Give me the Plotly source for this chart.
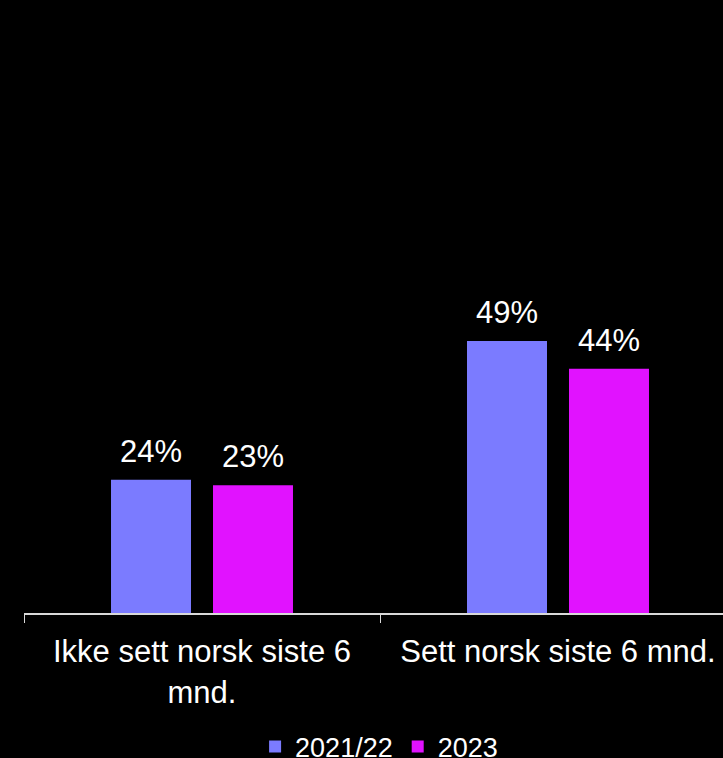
import plotly.graph_objects as go

categories = ["Ikke sett norsk siste 6<br>mnd.", "Sett norsk siste 6 mnd."]
series_names = ["2021/22", "2023"]
values_2021 = [0.24, 0.49]
values_2023 = [0.23, 0.44]
colors = ["#7B7BFF", "#E112FF"]

fig = go.Figure()
for name, vals, col in zip(series_names, [values_2021, values_2023], colors):
    fig.add_trace(go.Bar(
        x=categories, y=vals, name=name,
        marker=dict(color=col, line=dict(width=0)),
    ))

# value labels above each bar, shifted sideways to sit over its bar in the group
for shift, vals in zip([-51, 51], [values_2021, values_2023]):
    for cat, v in zip(categories, vals):
        fig.add_annotation(x=cat, y=v, text=f"{v:.0%}", showarrow=False,
                           xshift=shift, yshift=9, yanchor="bottom",
                           font=dict(color="white", size=31))

fig.update_layout(
    width=723, height=758,
    paper_bgcolor="black", plot_bgcolor="black",
    margin=dict(l=24, r=0, t=58, b=145, autoexpand=False),
    barmode="group", bargap=0.427, bargroupgap=0.2157,
    font=dict(family="Liberation Sans, Arial", color="white", size=32),
    showlegend=True,
    legend=dict(orientation="h", x=0.508, xanchor="center", y=-0.197, yanchor="top",
                font=dict(size=27), itemwidth=30, traceorder="normal"),
    xaxis=dict(
        range=[-0.5, 1.4635], showline=True, linecolor="#D9D9D9", linewidth=2,
        ticks="outside", tickson="boundaries", ticklen=8, tickcolor="#D9D9D9",
        tickfont=dict(size=31), ticklabelstandoff=10, showgrid=False, automargin=False,
    ),
    yaxis=dict(range=[0, 1], visible=False, showgrid=False, zeroline=False),
)

fig.write_html("out.html", config={"displayModeBar": False},
               post_script="document.body.style.margin='0';document.body.style.background='black';")
